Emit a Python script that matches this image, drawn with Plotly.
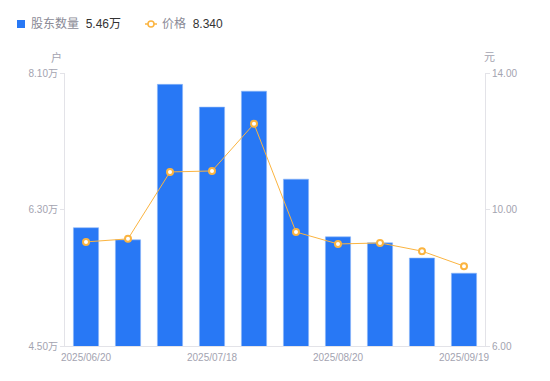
import plotly.graph_objects as go

dates = ["2025/06/20", "2025/06/30", "2025/07/10", "2025/07/18", "2025/07/31",
         "2025/08/10", "2025/08/20", "2025/08/29", "2025/09/10", "2025/09/19"]
holders = [6.06, 5.90, 7.95, 7.65, 7.86, 6.70, 5.94, 5.86, 5.66, 5.46]  # 万户
price = [9.05, 9.14, 11.10, 11.13, 12.51, 9.34, 8.99, 9.02, 8.78, 8.34]
x_tick_vals = ["2025/06/20", "2025/07/18", "2025/08/20", "2025/09/19"]
left_ticks = [4.50, 6.30, 8.10]
right_ticks = [6.00, 10.00, 14.00]

FONT = "Liberation Sans, Arial, Noto Sans CJK SC, sans-serif"
GREY = "#a3a3b0"
AXIS = "#e3e3e8"
BLUE = "#2878F5"
ORANGE = "#FBB440"

fig = go.Figure()
fig.add_trace(go.Bar(
    x=dates, y=holders, name="股东数量", yaxis="y",
    marker=dict(color=BLUE, line=dict(color="#8fb8f8", width=0.6)),
    width=0.6, showlegend=False,
))
fig.add_trace(go.Scatter(
    x=dates, y=price, name="价格", yaxis="y2", mode="lines+markers",
    line=dict(color=ORANGE, width=1),
    marker=dict(symbol="circle", size=6, color="white", line=dict(color=ORANGE, width=2)),
    showlegend=False, cliponaxis=False,
))

fig.update_layout(
    width=550, height=381,
    margin=dict(l=57, r=73, t=65, b=43),
    paper_bgcolor="white", plot_bgcolor="white",
    font=dict(family=FONT, size=10, color=GREY),
    bargap=0.4,
    xaxis=dict(
        type="category", tickmode="array", tickvals=x_tick_vals, ticktext=x_tick_vals,
        range=[-0.5, len(dates) - 0.5], autorange=False,
        showgrid=False, showline=True, linecolor=AXIS, linewidth=1,
        ticks="", tickfont=dict(size=10, color=GREY), ticklabelstandoff=2,
    ),
    yaxis=dict(
        range=[4.50, 8.10], tickmode="array", tickvals=left_ticks,
        ticktext=[f"{v:.2f}万" for v in left_ticks],
        showgrid=False, showline=True, linecolor=AXIS, linewidth=1,
        ticks="outside", ticklen=4, tickcolor=AXIS, zeroline=False,
        tickfont=dict(size=10, color=GREY),
    ),
    yaxis2=dict(
        range=[6.0, 14.0], overlaying="y", side="right", tickmode="array",
        tickvals=right_ticks, ticktext=[f"{v:.2f}" for v in right_ticks],
        showgrid=False, showline=True, linecolor=AXIS, linewidth=1,
        ticks="outside", ticklen=4, tickcolor=AXIS, zeroline=False,
        tickfont=dict(size=10, color=GREY),
    ),
)

# axis unit titles
fig.add_annotation(text="户", xref="paper", yref="paper", x=-0.02, y=1.0, yshift=16,
                   showarrow=False, font=dict(size=11, color=GREY), xanchor="center", yanchor="middle")
fig.add_annotation(text="元", xref="paper", yref="paper", x=1.01, y=1.0, yshift=16,
                   showarrow=False, font=dict(size=11, color=GREY), xanchor="center", yanchor="middle")

# custom legend
fig.add_shape(type="rect", xref="paper", yref="paper",
              x0=-48/420, x1=-40/420, y0=1 + 45/273, y1=1 + 53/273,
              fillcolor=BLUE, line=dict(width=0))
fig.add_annotation(text=f"股东数量  <span style='color:#333'>{holders[-1]:.2f}万</span>",
                   xref="paper", yref="paper", x=-36/420, y=1 + 49/273,
                   showarrow=False, xanchor="left", yanchor="middle",
                   font=dict(size=12, color="#8a8a96"))
fig.add_shape(type="line", xref="paper", yref="paper",
              x0=80/420, x1=92/420, y0=1 + 49/273, y1=1 + 49/273,
              line=dict(color=ORANGE, width=1.5))
fig.add_shape(type="circle", xref="paper", yref="paper",
              x0=83/420, x1=89/420, y0=1 + 46/273, y1=1 + 52/273,
              fillcolor="white", line=dict(color=ORANGE, width=1.5))
fig.add_annotation(text=f"价格  <span style='color:#333'>{price[-1]:.3f}</span>",
                   xref="paper", yref="paper", x=95/420, y=1 + 49/273,
                   showarrow=False, xanchor="left", yanchor="middle",
                   font=dict(size=12, color="#8a8a96"))

fig.write_html("out.html")
